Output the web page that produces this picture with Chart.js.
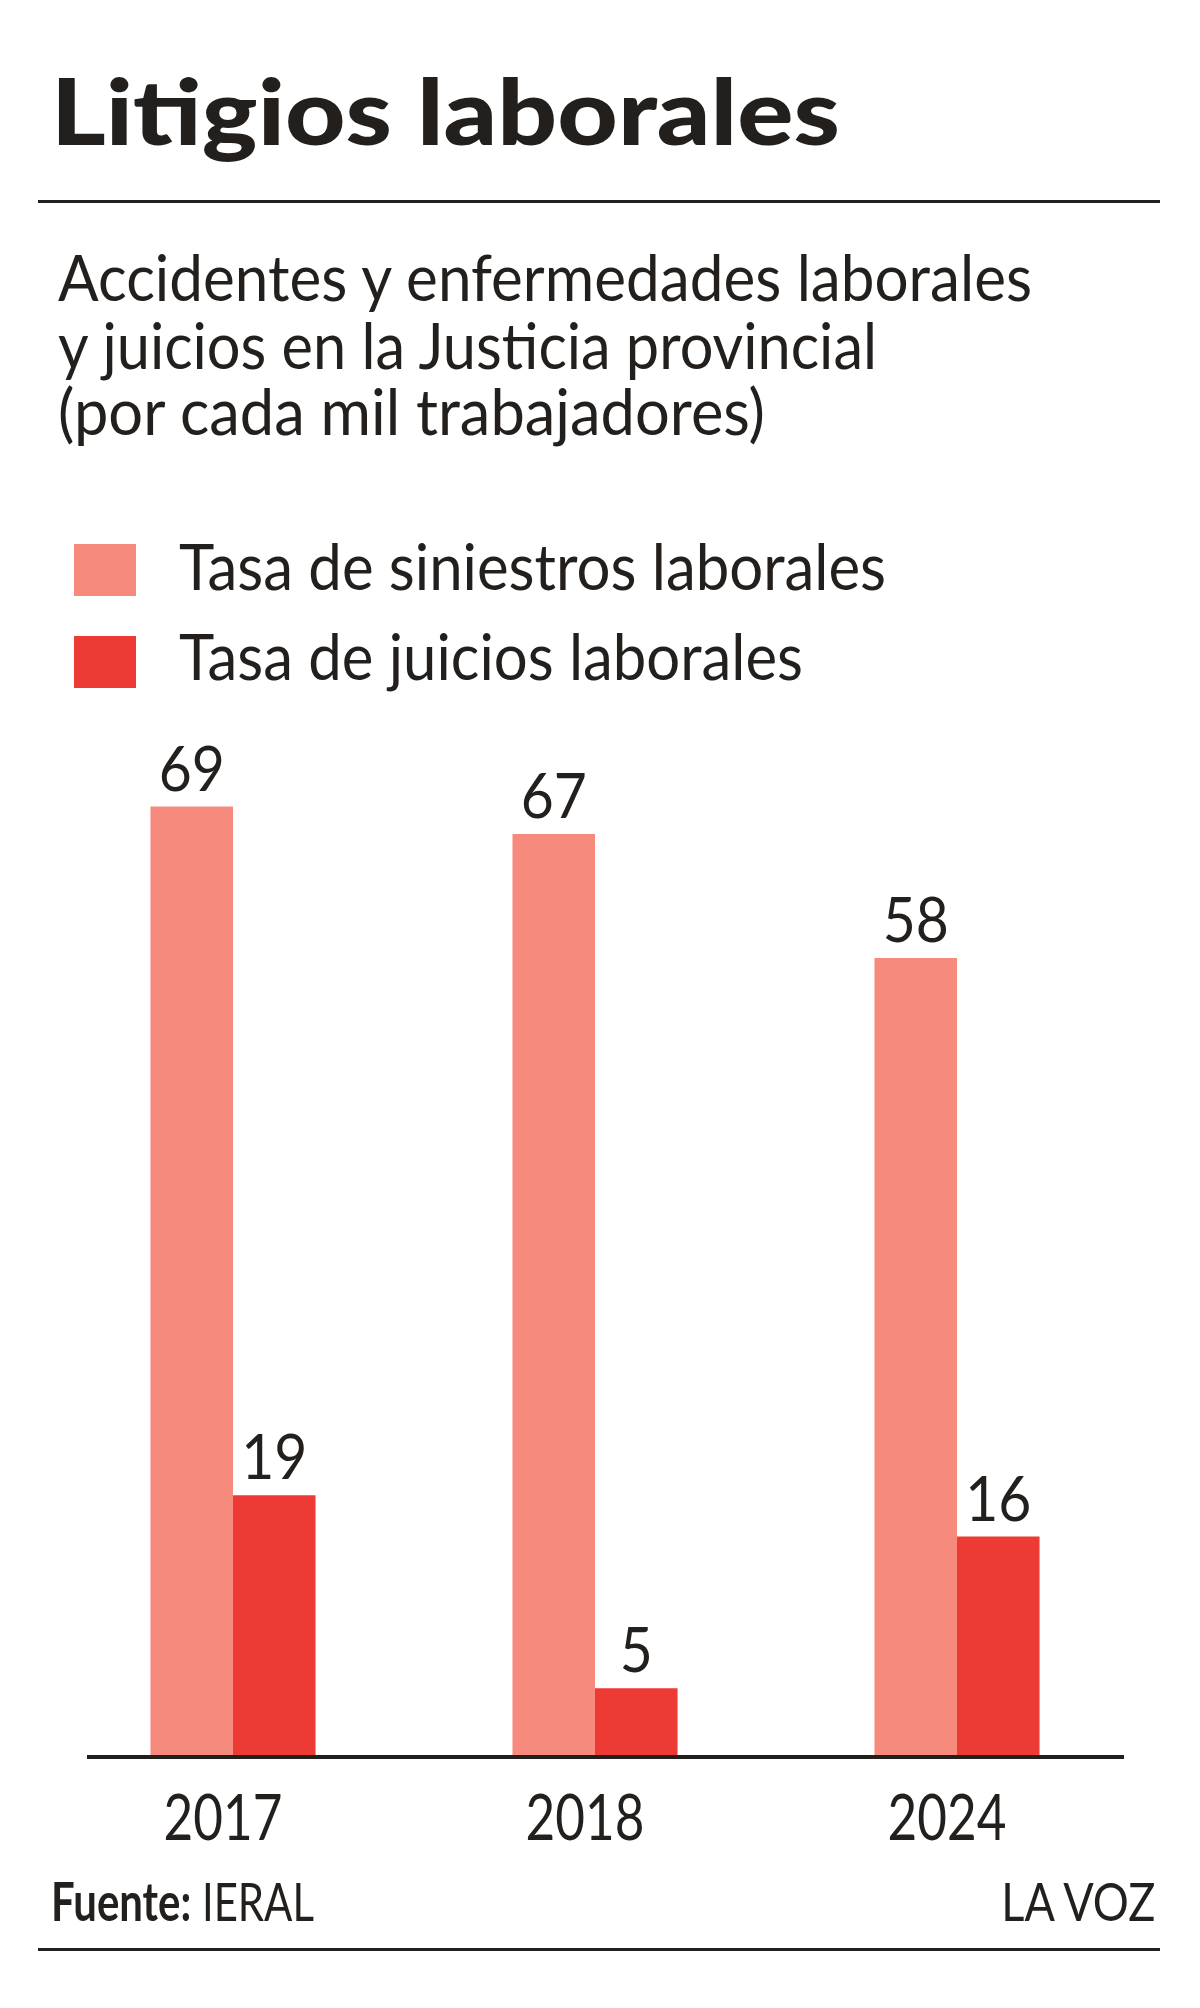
<!DOCTYPE html>
<html>
<head>
<meta charset="utf-8">
<script src="https://cdn.jsdelivr.net/npm/chart.js@4"></script>
<style>
    html, body { margin: 0; padding: 0; background: #fff; }
    body { width: 1200px; height: 2008px; position: relative; overflow: hidden; font-family: Lato, "Noto Sans", sans-serif; color: #231f1c; }
    #wrap { position: absolute; left: 0; top: 0; width: 1200px; height: 2008px; }
    .t { position: absolute; white-space: nowrap; line-height: 1; display: inline-block; }
    .rule { position: absolute; left: 38px; width: 1122px; height: 3px; background: #231f1c; }
    .sw { position: absolute; left: 74px; width: 62px; height: 52px; }
</style>
</head>
<body>
<div id="wrap"><canvas id="chart"></canvas></div>

<div class="t" id="title" style="left:51px;font-size:92px;font-weight:900;">Litigios laborales</div>
<div class="rule" style="top:200px;"></div>
<div class="t sub" style="left:58px;font-size:63px;" data-b="301" data-w="974">Accidentes y enfermedades laborales</div>
<div class="t sub" style="left:58px;font-size:63px;" data-b="369" data-w="819">y juicios en la Justicia provincial</div>
<div class="t sub" style="left:58px;font-size:63px;" data-b="435" data-w="707">(por cada mil trabajadores)</div>
<div id="legend"></div>
<div class="t" id="source" style="left:51px;font-size:53px;"><b>Fuente:</b> IERAL</div>
<div class="t" id="brand" style="right:45px;font-size:53px;">LA VOZ</div>
<div class="rule" style="top:1948px;"></div>

<script>
// values per 1000 workers
const years = ['2017', '2018', '2024'];
const siniestros = [69, 67, 58];
const juicios = [19, 5, 16];
const seriesNames = ['Tasa de siniestros laborales', 'Tasa de juicios laborales'];
const seriesColors = ['#f68a7d', '#ee3a35'];

const ink = '#231f1c';

function squashText(ctx, text, x, y, k) {
    ctx.save();
    ctx.translate(x, y);
    ctx.scale(k, 1);
    ctx.fillText(text, 0, 0);
    ctx.restore();
}

const labelsPlugin = {
    id: 'labels',
    afterDatasetsDraw(chart) {
        const ctx = chart.ctx;
        const xs = chart.scales.x;
        const y0 = chart.scales.y.getPixelForValue(0);
        const area = chart.chartArea;

        // baseline
        ctx.save();
        ctx.strokeStyle = ink;
        ctx.lineWidth = 4;
        ctx.beginPath();
        ctx.moveTo(area.left + 35, y0);
        ctx.lineTo(area.right - 14, y0);
        ctx.stroke();

        ctx.fillStyle = ink;
        ctx.textAlign = 'center';
        ctx.textBaseline = 'alphabetic';

        // value labels above the bars
        ctx.font = '62px Lato, "Noto Sans", sans-serif';
        chart.data.datasets.forEach((ds, di) => {
            chart.getDatasetMeta(di).data.forEach((bar, i) => {
                squashText(ctx, String(ds.data[i]), bar.x, bar.y - 16, 0.92);
            });
        });

        // category labels
        ctx.font = '64px Lato, "Noto Sans", sans-serif';
        years.forEach((yr, i) => {
            squashText(ctx, yr, xs.getPixelForValue(i) - 10, y0 + 83, 0.8);
        });
        ctx.restore();
    }
};

const chart = new Chart(document.getElementById('chart'), {
    type: 'bar',
    data: {
        labels: years,
        datasets: [{
            label: seriesNames[0],
            data: siniestros,
            backgroundColor: seriesColors[0]
        }, {
            label: seriesNames[1],
            data: juicios,
            backgroundColor: seriesColors[1]
        }]
    },
    options: {
        responsive: true,
        maintainAspectRatio: false,
        animation: false,
        categoryPercentage: 0.456,
        barPercentage: 1,
        layout: { padding: { left: 52, right: 62, top: 655, bottom: 251 } },
        plugins: {
            legend: { display: false },
            tooltip: { enabled: false }
        },
        scales: {
            x: { display: false },
            y: { display: false, min: 0, max: 80 }
        }
    },
    plugins: [labelsPlugin]
});

// legend built from the datasets
const legend = document.getElementById('legend');
const legendRows = [{ top: 544, b: 590, w: 707 }, { top: 636, b: 680, w: 624 }];
chart.data.datasets.forEach((ds, i) => {
    const sw = document.createElement('div');
    sw.className = 'sw';
    sw.style.top = legendRows[i].top + 'px';
    sw.style.background = ds.backgroundColor;
    legend.appendChild(sw);
    const tx = document.createElement('div');
    tx.className = 't';
    tx.style.left = '179px';
    tx.style.fontSize = '63px';
    tx.dataset.b = legendRows[i].b;
    tx.dataset.w = legendRows[i].w;
    tx.textContent = ds.label;
    legend.appendChild(tx);
});

// put a text line on a baseline and squeeze it to a width
function fit(el, baseline, width, origin) {
    const probe = document.createElement('span');
    probe.style.display = 'inline-block';
    probe.style.height = '0';
    probe.style.verticalAlign = 'baseline';
    el.appendChild(probe);
    const off = probe.offsetTop;
    el.removeChild(probe);
    el.style.top = (baseline - off) + 'px';
    const natural = el.getBoundingClientRect().width;
    el.style.transformOrigin = origin || 'left';
    el.style.transform = 'scaleX(' + (width / natural) + ')';
}

fit(document.getElementById('title'), 145, 789);
document.querySelectorAll('.sub').forEach(el => fit(el, +el.dataset.b, +el.dataset.w));
legend.querySelectorAll('.t').forEach(el => fit(el, +el.dataset.b, +el.dataset.w));
fit(document.getElementById('source'), 1921, 263);
fit(document.getElementById('brand'), 1921, 154, 'right');
</script>
</body>
</html>
